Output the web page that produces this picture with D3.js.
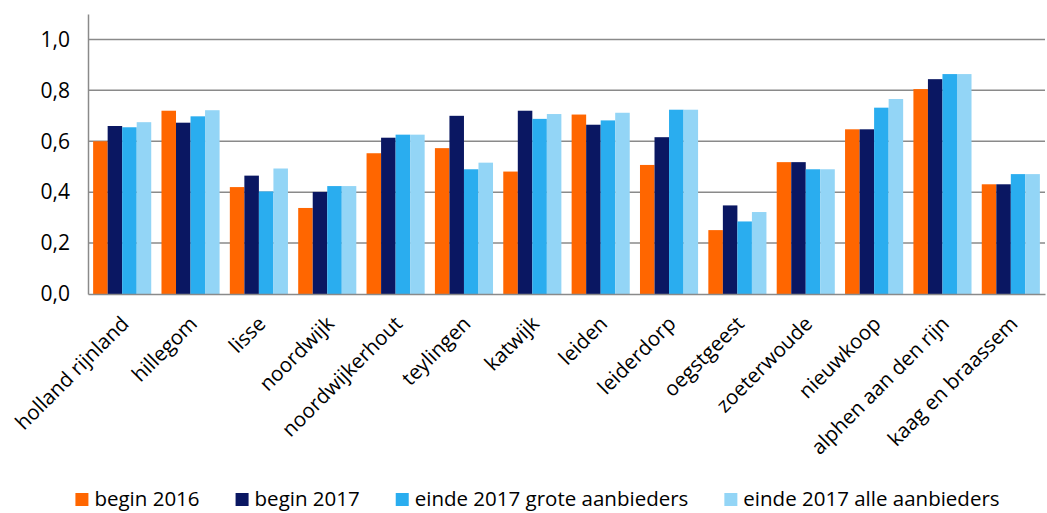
<!DOCTYPE html>
<html>
<head>
<meta charset="utf-8">
<script src="https://cdn.jsdelivr.net/npm/d3@7"></script>
<style>
  body { margin: 0; background: #fff; }
  svg { display: block; font-family: "Open Sans", sans-serif; }
</style>
</head>
<body>
<svg id="chart"></svg>
<script>
const categories = ["holland rijnland", "hillegom", "lisse", "noordwijk", "noordwijkerhout", "teylingen", "katwijk", "leiden", "leiderdorp", "oegstgeest", "zoeterwoude", "nieuwkoop", "alphen aan den rijn", "kaag en braassem"];
const seriesNames = ["begin 2016", "begin 2017", "einde 2017 grote aanbieders", "einde 2017 alle aanbieders"];
const begin2016 = [0.60, 0.72, 0.42, 0.338, 0.553, 0.573, 0.481, 0.705, 0.507, 0.251, 0.518, 0.647, 0.805, 0.431];
const begin2017 = [0.66, 0.673, 0.465, 0.401, 0.614, 0.70, 0.72, 0.665, 0.616, 0.348, 0.518, 0.647, 0.844, 0.431];
const einde2017Grote = [0.655, 0.698, 0.403, 0.424, 0.626, 0.49, 0.688, 0.682, 0.724, 0.285, 0.49, 0.732, 0.864, 0.471];
const einde2017Alle = [0.675, 0.722, 0.493, 0.424, 0.626, 0.516, 0.707, 0.712, 0.724, 0.322, 0.49, 0.766, 0.864, 0.471];
const yTicks = [0, 0.2, 0.4, 0.6, 0.8, 1.0];
const colors = ["#FF6600", "#0A1762", "#2AADEF", "#93D5F6"];

const seriesValues = [begin2016, begin2017, einde2017Grote, einde2017Alle];
const data = categories.map((c, i) => ({ cat: c, values: seriesValues.map(s => s[i]) }));

const WIDTH = 1047, HEIGHT = 513;
const MARGIN = { top: 14, right: 2, bottom: 219, left: 88 };
const INNER_WIDTH = WIDTH - MARGIN.left - MARGIN.right;
const INNER_HEIGHT = HEIGHT - MARGIN.top - MARGIN.bottom;

const svg = d3.select("#chart").attr("width", WIDTH).attr("height", HEIGHT);
const g = svg.append("g").attr("transform", `translate(${MARGIN.left},${MARGIN.top})`);

const yScale = d3.scaleLinear().domain([0, 1.1]).range([INNER_HEIGHT, 0]);
const xScale = d3.scaleBand().domain(categories).range([0, INNER_WIDTH]).paddingInner(0.15).paddingOuter(0.075);
const xSub = d3.scaleBand().domain(d3.range(seriesNames.length)).range([0, xScale.bandwidth()]);

// gridlines
g.append("g")
  .selectAll("line")
  .data(yTicks.filter(d => d > 0))
  .enter()
  .append("line")
  .attr("x1", 0).attr("x2", INNER_WIDTH)
  .attr("y1", d => yScale(d)).attr("y2", d => yScale(d))
  .attr("stroke", "#8a8a8a").attr("stroke-width", 1.5);

// y axis
const yAxis = d3.axisLeft(yScale).tickValues(yTicks).tickSize(0).tickPadding(18)
  .tickFormat(d => d3.format(".1f")(d).replace(".", ","));
const yG = g.append("g").call(yAxis);
yG.select(".domain").attr("stroke", "#8a8a8a").attr("stroke-width", 1.5);
yG.selectAll(".tick text").attr("font-size", "21px").attr("fill", "#000").attr("font-family", "'Open Sans', sans-serif");

// bars
const groups = g.selectAll(".grp")
  .data(data)
  .enter()
  .append("g")
  .attr("class", "grp")
  .attr("transform", d => `translate(${xScale(d.cat)},0)`);

groups.selectAll("rect")
  .data(d => d.values.map((v, i) => ({ v, i })))
  .enter()
  .append("rect")
  .attr("x", d => xSub(d.i))
  .attr("width", xSub.bandwidth())
  .attr("y", d => yScale(d.v))
  .attr("height", d => INNER_HEIGHT - yScale(d.v))
  .attr("fill", d => colors[d.i]);

// x axis
const xAxis = d3.axisBottom(xScale).tickSize(0).tickPadding(0);
const xG = g.append("g").attr("transform", `translate(0,${INNER_HEIGHT})`).call(xAxis);
xG.select(".domain").attr("stroke", "#8a8a8a").attr("stroke-width", 1.5);
xG.selectAll(".tick text")
  .attr("font-size", "20.5px")
  .attr("fill", "#000")
  .attr("font-family", "'Open Sans', sans-serif")
  .attr("text-anchor", "end")
  .attr("dy", "0")
  .attr("y", 0)
  .attr("transform", "translate(8,31) rotate(-45)");

// legend
const legend = svg.append("g");
const items = legend.selectAll(".item")
  .data(seriesNames)
  .enter()
  .append("g")
  .attr("class", "item");
items.append("rect").attr("width", 13).attr("height", 13).attr("y", -13).attr("fill", (d, i) => colors[i]);
items.append("text").attr("x", 19).attr("font-size", "20.5px").attr("fill", "#000").text(d => d);
let xPos = 0;
const gapItem = 36;
items.each(function () {
  const w = d3.select(this).select("text").node().getComputedTextLength() + 19;
  d3.select(this).attr("transform", `translate(${xPos},0)`);
  xPos += w + gapItem;
});
const totalW = xPos - gapItem;
legend.attr("transform", `translate(${(WIDTH - totalW) / 2 + 14},${HEIGHT - 7})`);
</script>
</body>
</html>
